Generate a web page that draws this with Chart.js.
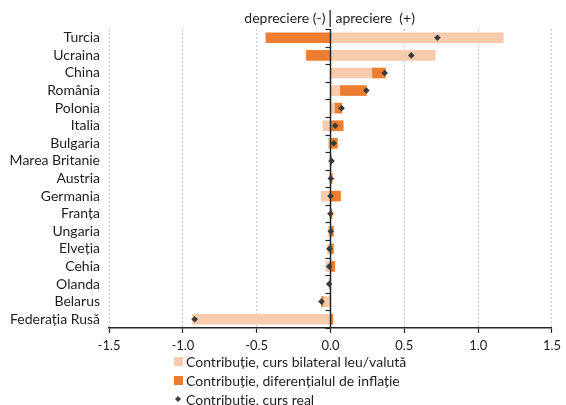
<!DOCTYPE html>
<html><head><meta charset="utf-8">
<script src="https://cdn.jsdelivr.net/npm/chart.js@4.4.1/dist/chart.umd.min.js"></script>
<style>html,body{margin:0;padding:0;background:#fff;}#wrap{width:566px;height:405px;}</style>
</head><body><div id="wrap"><canvas id="c" width="566" height="405"></canvas></div>
<script>
const categories = ['Turcia','Ucraina','China','România','Polonia','Italia','Bulgaria','Marea Britanie','Austria','Germania','Franța','Ungaria','Elveția','Cehia','Olanda','Belarus','Federația Rusă'];
const bilateral = [1.17, 0.71, 0.28, 0.063, 0.027, -0.052, -0.016, 0.005, -0.007, -0.063, -0.005, -0.016, -0.02, -0.032, -0.005, -0.045, -0.935];
const inflation = [-0.437, -0.163, 0.092, 0.18, 0.049, 0.086, 0.047, 0.003, 0.011, 0.068, 0.01, 0.02, 0.02, 0.029, -0.004, -0.016, 0.016];
const realRate = [0.724, 0.547, 0.367, 0.243, 0.075, 0.032, 0.022, 0.007, 0.002, 0.0, 0.0, 0.002, -0.007, -0.009, -0.009, -0.061, -0.92];
const seriesNames = ['Contribuție, curs bilateral leu/valută', 'Contribuție, diferențialul de inflație', 'Contribuție, curs real'];
const titleLeft = 'depreciere (-)';
const titleRight = 'apreciere  (+)';
const xMin = -1.5, xMax = 1.5, xStep = 0.5;

const FONT = 'Lato, "Open Sans", sans-serif';
const C_LIGHT = '#F8CBAD', C_DARK = '#ED7D31', C_MARK = '#3a3a3a', C_TEXT = '#1e1e1e';

const customDraw = {
  id: 'customDraw',
  beforeDatasetDraw(chart, args) {
    if (args.meta.type !== 'line') return;
    const {ctx, chartArea, scales: {x}} = chart;
    const x0 = Math.round(x.getPixelForValue(0)) + 0.5;
    const n = categories.length;
    const sp = (chartArea.bottom - chartArea.top) / n;
    ctx.save();
    ctx.strokeStyle = '#262626';
    ctx.lineWidth = 1.5;
    ctx.beginPath();
    ctx.moveTo(x0, chartArea.top);
    ctx.lineTo(x0, chartArea.bottom);
    ctx.stroke();
    ctx.lineWidth = 1.2;
    for (let k = 0; k <= n; k++) {
      const yy = Math.round(chartArea.top + k * sp) + 0.5;
      ctx.beginPath();
      ctx.moveTo(x0 - 5, yy);
      ctx.lineTo(x0, yy);
      ctx.stroke();
    }
    ctx.restore();
  },
  afterDraw(chart) {
    const {ctx, scales: {x}} = chart;
    const x0 = x.getPixelForValue(0);
    ctx.save();
    ctx.font = '14px ' + FONT;
    ctx.fillStyle = C_TEXT;
    ctx.textBaseline = 'middle';
    ctx.textAlign = 'right';
    ctx.fillText(titleLeft, x0 - 5, 18);
    ctx.textAlign = 'left';
    ctx.fillText(titleRight, x0 + 5, 18);
    ctx.fillStyle = '#222';
    ctx.fillRect(Math.round(x0) - 0.5, 10, 1.3, 17);
    // legend
    const lx = 174, rows = [361, 380, 399];
    ctx.textAlign = 'left';
    ctx.font = '14px ' + FONT;
    chart.data.datasets.forEach((ds, i) => {
      const yy = rows[i];
      if (ds.type === 'line') {
        ctx.fillStyle = C_MARK;
        ctx.beginPath();
        ctx.moveTo(lx + 4, yy - 3);
        ctx.lineTo(lx + 7, yy);
        ctx.lineTo(lx + 4, yy + 3);
        ctx.lineTo(lx + 1, yy);
        ctx.closePath();
        ctx.fill();
      } else {
        ctx.fillStyle = ds.backgroundColor;
        ctx.fillRect(lx, yy - 4, 9, 9);
      }
      ctx.fillStyle = C_TEXT;
      ctx.fillText(ds.label, lx + 12, yy + 1);
    });
    ctx.restore();
  }
};

new Chart(document.getElementById('c'), {
  type: 'bar',
  data: {
    labels: categories,
    datasets: [
      {label: seriesNames[0], data: bilateral, backgroundColor: C_LIGHT, barThickness: 10, stack: 's', order: 1},
      {label: seriesNames[1], data: inflation, backgroundColor: C_DARK, barThickness: 10, stack: 's', order: 1},
      {type: 'line', label: seriesNames[2], data: realRate, showLine: false, stack: 'r', order: 0,
       pointStyle: 'rectRot', pointRadius: 3.3, pointBackgroundColor: C_MARK, pointBorderColor: C_MARK, pointBorderWidth: 0}
    ]
  },
  options: {
    indexAxis: 'y',
    responsive: false,
    animation: false,
    devicePixelRatio: 1,
    layout: {padding: {top: 29, right: 13, bottom: 55, left: 0}},
    plugins: {legend: {display: false}, title: {display: false}, tooltip: {enabled: false}},
    scales: {
      x: {
        stacked: true,
        min: xMin, max: xMax,
        ticks: {stepSize: xStep, color: C_TEXT, font: {family: FONT, size: 13}, padding: 5,
          callback: v => v.toFixed(1).replace('.', ',')},
        grid: {color: '#c9c9c9', lineWidth: 1, tickColor: '#262626', tickLength: 5, tickWidth: 1.2},
        border: {display: true, color: '#262626', width: 1.5, dash: [2, 2]},
        afterFit: s => { s.height = 22; }
      },
      y: {
        stacked: true,
        ticks: {color: C_TEXT, font: {family: FONT, size: 14}, padding: 9, autoSkip: false},
        grid: {display: false, drawTicks: false},
        border: {display: false},
        afterFit: s => { s.width = 109; }
      }
    }
  },
  plugins: [customDraw]
});
</script>
</body></html>
